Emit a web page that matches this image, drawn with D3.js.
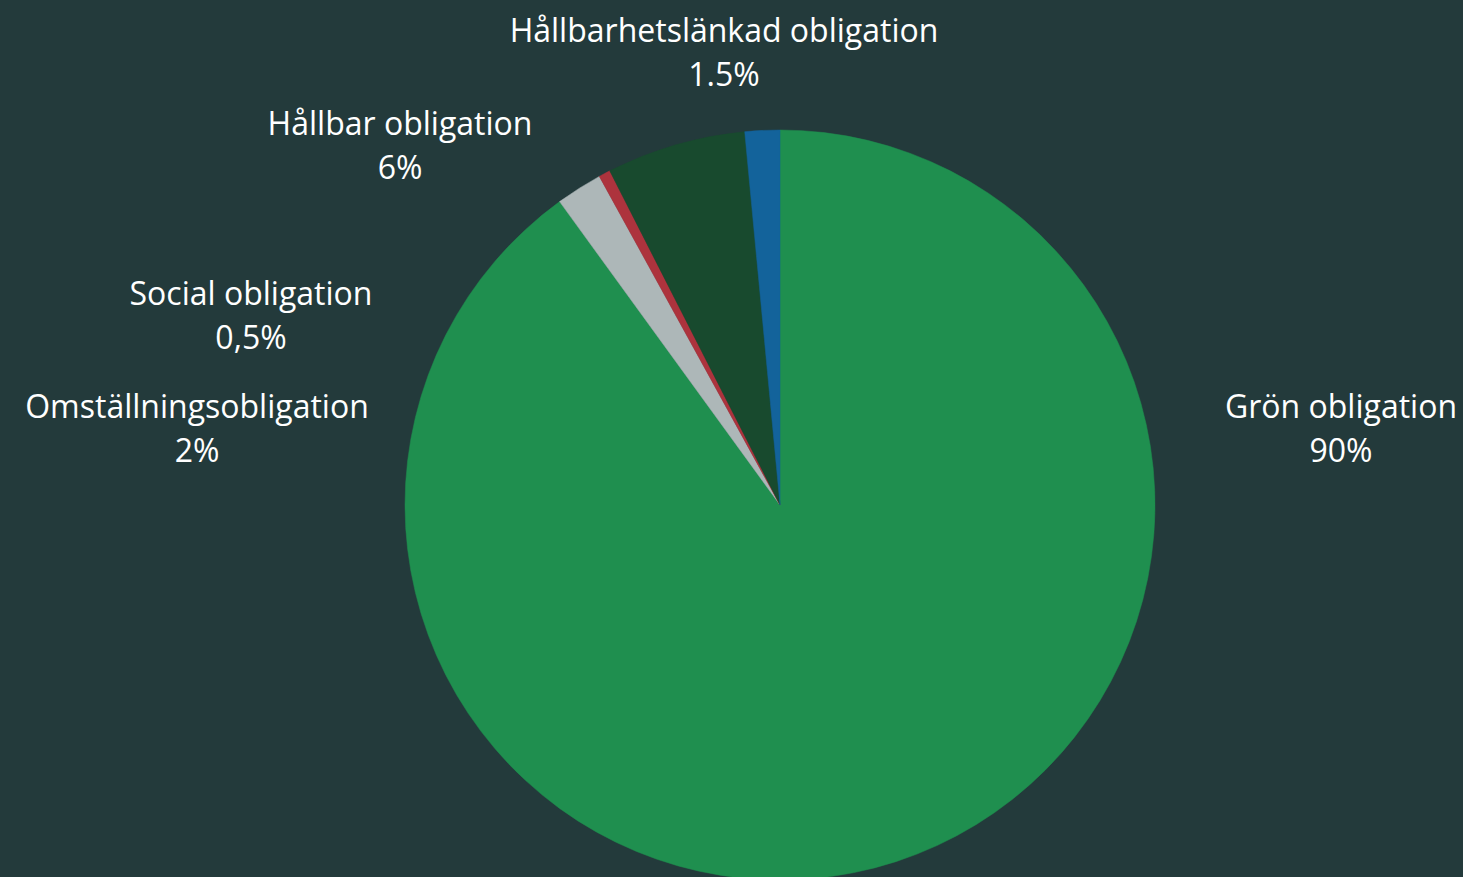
<!DOCTYPE html>
<html>
<head>
<meta charset="utf-8">
<script src="https://cdn.jsdelivr.net/npm/d3@7"></script>
<style>
  html, body { margin: 0; padding: 0; background: #233a3b; overflow: hidden; }
  svg { display: block; }
  text { font-family: "Open Sans", "Noto Sans", sans-serif; fill: #ffffff; }
</style>
</head>
<body>
<svg id="chart" width="1463" height="877"></svg>
<script>
// Bond categories, clockwise from 12 o'clock
const categories = [
  "Grön obligation",
  "Omställningsobligation",
  "Social obligation",
  "Hållbar obligation",
  "Hållbarhetslänkad obligation"
];
// Share of each category, in percent
const shares = [90, 2, 0.5, 6, 1.5];
// Printed value labels
const valueLabels = ["90%", "2%", "0,5%", "6%", "1.5%"];
const colors = ["#1f8f4f", "#adb7b8", "#ad333d", "#184a2e", "#13639b"];

const width = 1463, height = 877;
const cx = 780, cy = 505, radius = 375;

// Label anchor offsets from the pie centre (first-line baseline)
const labelOffsets = [
  [561, -87],
  [-583, -87],
  [-529, -200],
  [-380, -370],
  [-56, -463]
];
const lineGap = 44;

const data = categories.map((c, i) => ({
  name: c, value: shares[i], label: valueLabels[i], color: colors[i], offset: labelOffsets[i]
}));

const svg = d3.select("#chart");
svg.append("rect").attr("width", width).attr("height", height).attr("fill", "#233a3b");

const pie = d3.pie().sort(null).value(d => d.value).startAngle(0).endAngle(2 * Math.PI);
const arc = d3.arc().innerRadius(0).outerRadius(radius);

const g = svg.append("g").attr("transform", `translate(${cx},${cy})`);

g.selectAll("path.slice")
  .data(pie(data))
  .join("path")
  .attr("class", "slice")
  .attr("d", arc)
  .attr("fill", d => d.data.color)
  .attr("stroke", d => d.data.color)
  .attr("stroke-width", 0.5);

const labels = g.selectAll("g.label")
  .data(data)
  .join("g")
  .attr("class", "label")
  .attr("transform", d => `translate(${d.offset[0]},${d.offset[1]})`);

labels.append("text")
  .attr("text-anchor", "middle")
  .attr("font-size", 32)
  .text(d => d.name);

labels.append("text")
  .attr("text-anchor", "middle")
  .attr("font-size", 32)
  .attr("y", lineGap)
  .text(d => d.label);
</script>
</body>
</html>
